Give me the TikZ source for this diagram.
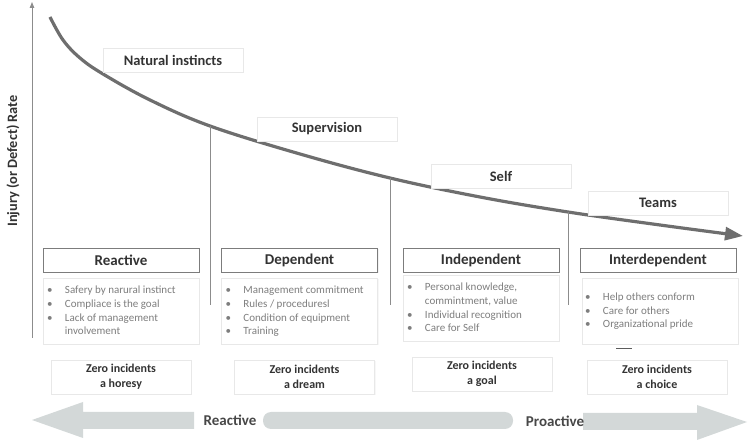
\documentclass[tikz,border=0pt]{standalone}
\usepackage{fontspec}
\setmainfont{Carlito}
\usetikzlibrary{
  arrows.meta,
  positioning,
  calc,
  shadows
}
\definecolor{curvegray}{HTML}{6E6E6E}
\definecolor{linegray}{HTML}{8C8C8C}
\definecolor{boxedge}{HTML}{7C7C7C}
\definecolor{softedge}{HTML}{E8E8E8}
\definecolor{arrowgray}{HTML}{D3D8D8}
\definecolor{darktext}{HTML}{333333}
\definecolor{bullettext}{HTML}{7E7E7E}

\newcommand{\pointlist}[1]{\begin{tabular}{@{}l@{\hspace{12.5pt}}l@{}}#1\end{tabular}}

\begin{document}
\begin{tikzpicture}[
    x=1pt, y=-1pt,
    node distance=6pt,
    every node/.style={text=darktext},
    levelbox/.style={rectangle, draw=softedge, fill=white, minimum width=140pt,
                 minimum height=24pt, font=\bfseries\fontsize{14.5}{16}\selectfont,
                 drop shadow={shadow xshift=1pt, shadow yshift=-1pt, fill=black!6}},
    stagebox/.style={rectangle, draw=boxedge, fill=white, minimum width=156pt,
                 minimum height=24pt, font=\bfseries\fontsize{15}{17}\selectfont,
                 drop shadow={shadow xshift=1pt, shadow yshift=-1pt, fill=black!10}},
    listbox/.style={rectangle, draw=softedge, fill=white, minimum width=156pt,
                 minimum height=66pt,
                 drop shadow={shadow xshift=1pt, shadow yshift=-1pt, fill=black!6}},
    listtext/.style={anchor=west, inner sep=0pt, text=bullettext,
                 font=\fontsize{11}{13.8}\selectfont},
    zerobox/.style={rectangle, draw=softedge, fill=white, minimum width=140pt,
                 minimum height=34pt, align=center,
                 font=\bfseries\fontsize{12}{15.5}\selectfont,
                 drop shadow={shadow xshift=1pt, shadow yshift=-1pt, fill=black!6}},
    divider/.style={draw=linegray, line width=0.9pt},
    curveline/.style={draw=curvegray, line width=3.2pt,
                 -{Triangle[length=18pt, width=13pt]}},
    axisline/.style={draw=linegray, line width=1pt,
                 -{Triangle[length=6pt, width=4.5pt]}},
    bigarrow/.style={fill=arrowgray},
    sidelabel/.style={font=\bfseries\fontsize{15}{17}\selectfont, text=darktext!90},
]
\useasboundingbox (0,0) rectangle (750,443);

% axis and rate curve
\coordinate (ybot) at (32,338);
\coordinate (ytop) at (32,2);
\draw[axisline] (ybot) -- (ytop);
\node[rotate=90, font=\bfseries\fontsize{14.3}{16}\selectfont] (ylabel) at (13,161) {Injury (or Defect) Rate};

\coordinate (k1) at (210,126);
\coordinate (k2) at (390,178);
\coordinate (k3) at (568,212);
\draw[curveline] plot[smooth, tension=0.6] coordinates {(50,17) (63,40) (80,58) (103,74)
  (150,100) (k1) (300,154) (k2) (480,197) (k3) (660,225) (743,236)};

% dividers between the stages
\coordinate (k1b) at (210,305);
\coordinate (k2b) at (390,305);
\coordinate (k3b) at (568,305);
\draw[divider] (k1) -- (k1b);
\draw[divider] (k2) -- (k2b);
\draw[divider] (k3) -- (k3b);

% level labels along the curve
\node[levelbox] (natural) at (173,60.5) {Natural instincts};
\node[levelbox] (superv) at (327,129) {Supervision};
\node[levelbox] (self) at (501,176.5) {Self};
\node[levelbox] (teams) at (658,203) {Teams};

% stages
\node[stagebox] (reactive) at (121,260) {Reactive};
\node[stagebox] (dependent) at (299.5,260) {Dependent};
\node[stagebox] (independent) at (481,260) {Independent};
\node[stagebox] (interdep) at (658,260) {Interdependent};

\node[listbox, below=of reactive] (rlist) {};
\node[listbox, below=of dependent] (dlist) {};
\node[listbox, below=3pt of independent] (ilist) {};
\node[listbox, below=of interdep, xshift=2pt] (tlist) {};

\node[listtext] (rtext) at ($(rlist.west)+(4,0)$) {\pointlist{%
  \textbullet & Safery by narural instinct\\
  \textbullet & Compliace is the goal\\
  \textbullet & Lack of management\\
              & involvement}};
\node[listtext] (dtext) at ($(dlist.west)+(4,0)$) {\pointlist{%
  \textbullet & Management commitment\\
  \textbullet & Rules / proceduresl\\
  \textbullet & Condition of equipment\\
  \textbullet & Training}};
\node[listtext] (itext) at ($(ilist.west)+(4,0)$) {\pointlist{%
  \textbullet & Personal knowledge,\\
              & commintment, value\\
  \textbullet & Individual recognition\\
  \textbullet & Care for Self}};
\node[listtext] (ttext) at ($(tlist.west)+(3,0)$) {\pointlist{%
  \textbullet & Help others conform\\
  \textbullet & Care for others\\
  \textbullet & Organizational pride}};

\coordinate (dashl) at (616,348);
\coordinate (dashr) at (632,348);
\draw[draw=darktext!80, line width=0.8pt] (dashl) -- (dashr);

% zero incidents
\node[zerobox, below=15pt of rlist] (rzero) {Zero incidents\\a horesy};
\node[zerobox, below=15pt of dlist, xshift=5pt] (dzero) {Zero incidents\\a dream};
\node[zerobox, below=15pt of ilist, xshift=1pt] (izero) {Zero incidents\\a goal};
\node[zerobox, below=15pt of tlist, xshift=-3pt] (tzero) {Zero incidents\\a choice};

% reactive / proactive scale
\fill[bigarrow] (32,420) -- (83,402) -- (83,412) -- (194,412) -- (194,429)
  -- (83,429) -- (83,438) -- cycle;
\fill[bigarrow, rounded corners=8pt] (263,412) rectangle (513,429);
\fill[bigarrow] (747,422) -- (697,405) -- (697,413) -- (583,413) -- (583,430)
  -- (697,430) -- (697,440) -- cycle;
\node[sidelabel] (reactlbl) at (230,420) {Reactive};
\node[sidelabel] (proactlbl) at (555,421) {Proactive};

\end{tikzpicture}
\end{document}
